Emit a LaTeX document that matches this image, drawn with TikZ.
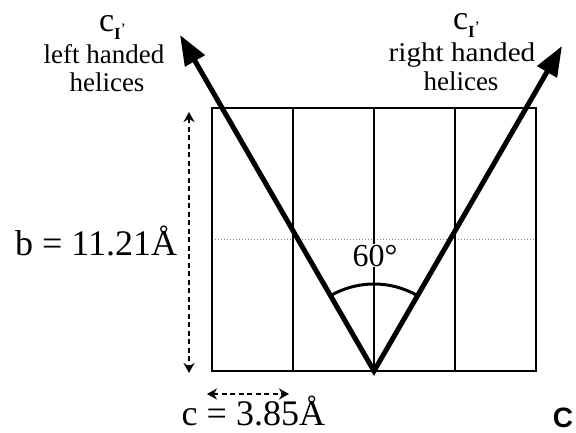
\documentclass[tikz,border=0pt]{standalone}
\usepackage{fontspec}
\setmainfont{Liberation Serif}
\newfontfamily\labelsans{Liberation Sans}
\usetikzlibrary{arrows.meta}
\begin{document}
\begin{tikzpicture}[x=1pt,y=-1pt,
  gridline/.style={line width=2pt},
  dotline/.style={line width=1pt,gray,dotted},
  vline/.style={line width=5pt,line join=miter,
     {Triangle[length=30pt,width=22pt]}-{Triangle[length=30pt,width=22pt]}},
  dimarrow/.style={line width=2pt,dash pattern=on 5pt off 3.5pt,
     {Stealth[length=10pt,width=11pt]}-{Stealth[length=10pt,width=11pt]}},
  txt/.style={inner sep=0pt,outer sep=0pt}]
\useasboundingbox (0,0) rectangle (576,433);
% grid
\coordinate (r1) at (212,108);
\coordinate (r2) at (536,371);
\draw[dotline] (212,239) -- (536,239);
\draw[gridline] (r1) rectangle (r2);
\draw[gridline] (293,108) -- (293,371);
\draw[gridline] (374,108) -- (374,371);
\draw[gridline] (455,108) -- (455,371);
% angle label
\node[txt,fill=white,inner sep=1pt,anchor=base] (ang) at (375,266) {\fontsize{32}{32}\selectfont 60°};
% V
\coordinate (apex) at (374,371);
\coordinate (tipL) at (180,35);
\coordinate (tipR) at (562,46);
\draw[vline] (tipL) -- (apex) -- (tipR);
\draw[line width=3pt] (apex) ++(60:87pt) arc[start angle=60,end angle=120,radius=87pt];
% dimension arrows
\coordinate (bt) at (189,112);
\coordinate (bb) at (189,373);
\draw[dimarrow] (bt) -- (bb);
\coordinate (cl) at (207,394);
\coordinate (cr) at (289,394);
\draw[dimarrow] (cl) -- (cr);
% labels
\node[txt,anchor=base east] (blab) at (177,255) {\fontsize{36}{36}\selectfont b = 11.21Å};
\node[txt,anchor=base east] (clab) at (325,425) {\fontsize{36}{36}\selectfont c = 3.85Å};
\node[txt,anchor=base] (bigC) at (563,427) {\labelsans\bfseries\fontsize{28}{28}\selectfont C};
% left helix label
\node[txt,anchor=base west] (cL) at (99,32) {\fontsize{34}{34}\selectfont c\raisebox{-8pt}{\fontsize{17}{17}\selectfont\textbf{I}\raisebox{5pt}{\fontsize{16}{16}\selectfont '}}};
\node[txt,anchor=base] (lh1) at (104,64) {\fontsize{27}{27}\selectfont left handed};
\node[txt,anchor=base] (lh2) at (107,92) {\fontsize{27}{27}\selectfont helices};
% right helix label
\node[txt,anchor=base west] (cR) at (453,30) {\fontsize{34}{34}\selectfont c\raisebox{-8pt}{\fontsize{17}{17}\selectfont\textbf{I}\raisebox{5pt}{\fontsize{16}{16}\selectfont '}}};
\node[txt,anchor=base] (rh1) at (462,62) {\scalebox{1.08}[1]{\fontsize{27}{27}\selectfont right handed}};
\node[txt,anchor=base] (rh2) at (461,91) {\fontsize{27}{27}\selectfont helices};
\end{tikzpicture}
\end{document}
